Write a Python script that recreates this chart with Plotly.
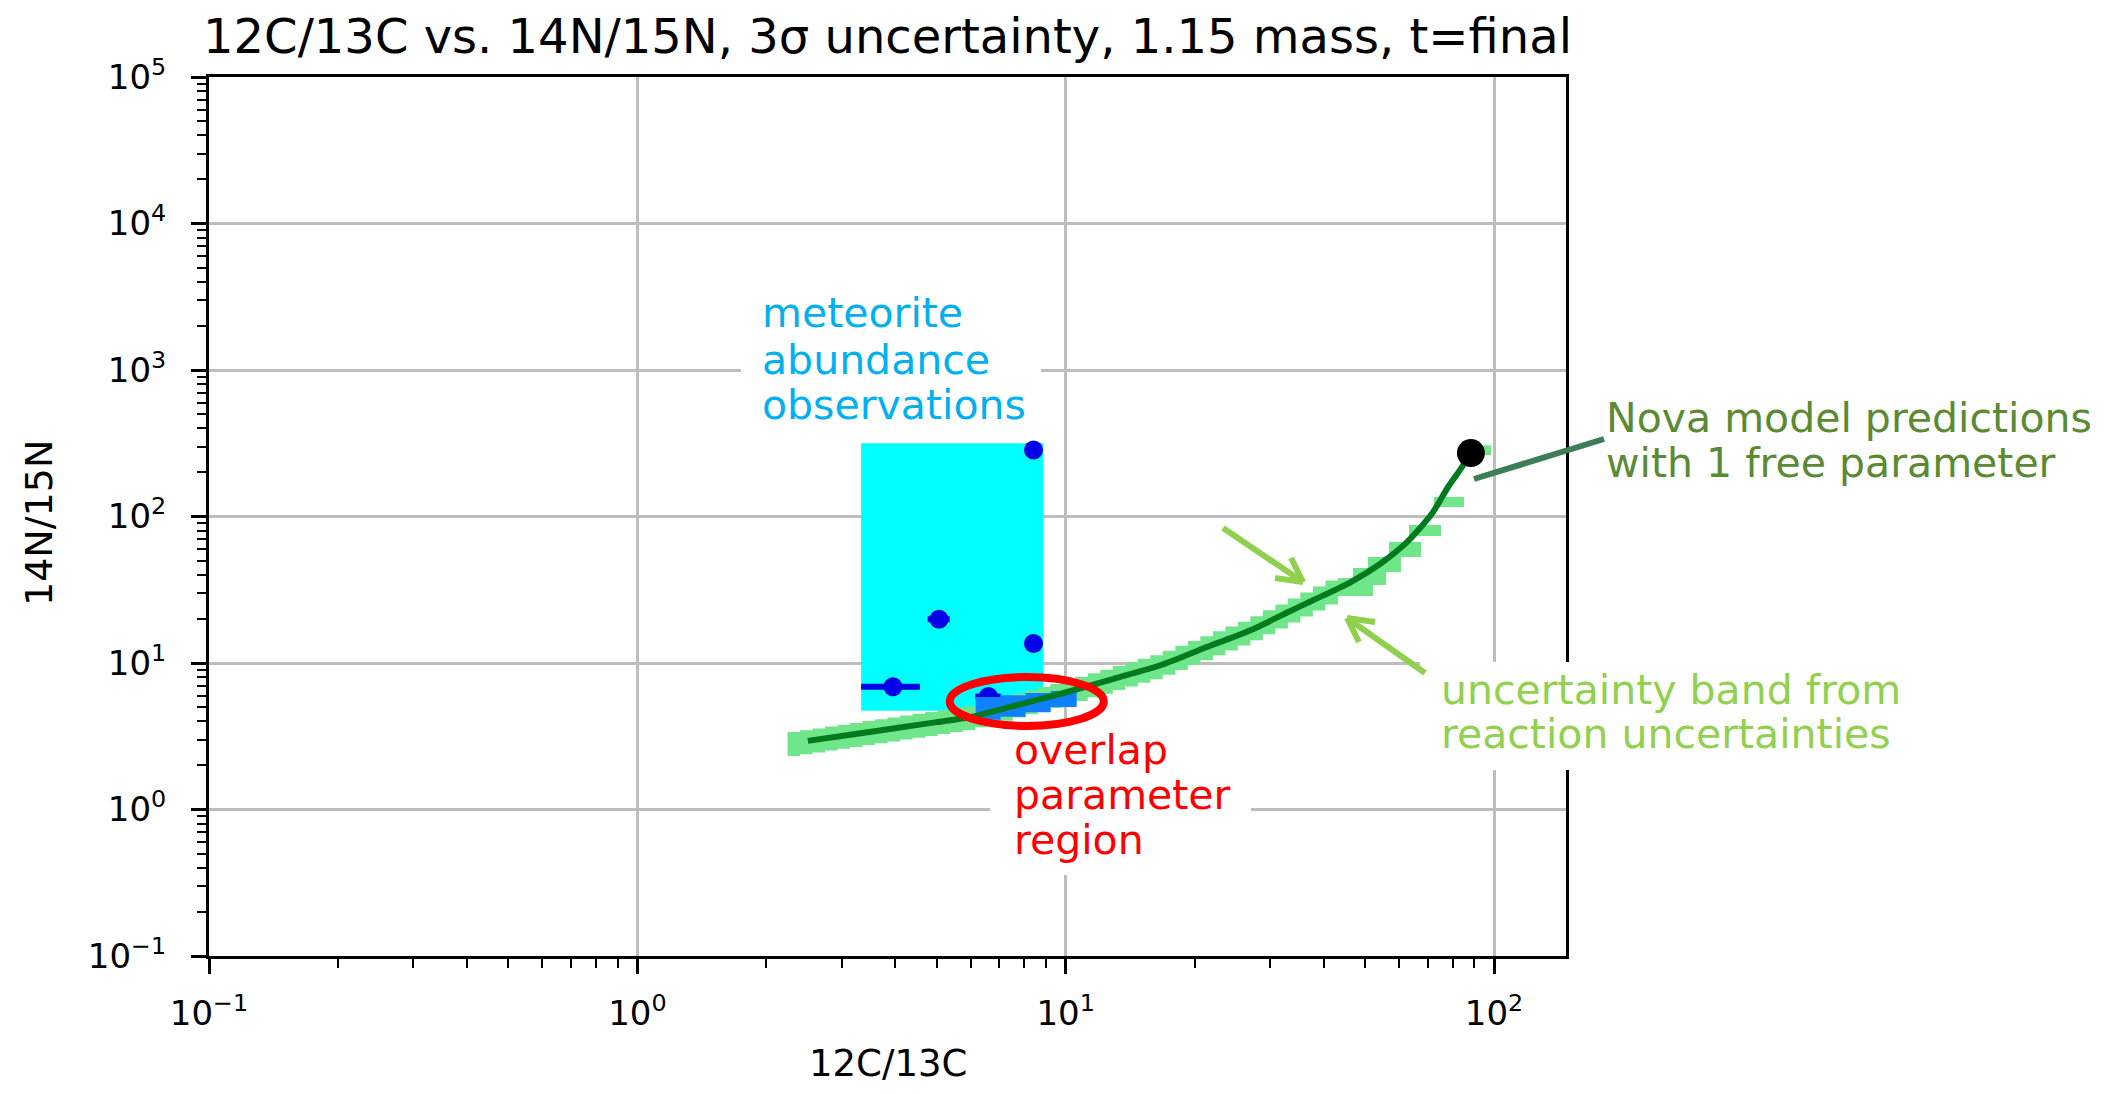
import plotly.graph_objects as go

# ---------------- data ----------------
# nova model prediction curve (12C/13C, 14N/15N)
curve_x = [2.50, 3.2, 4.18, 5.0, 6.0, 7.5, 9.89, 13.0, 16.7, 21.0, 27.1, 33.0, 37.9,
           46.3, 54.5, 62.0, 67.5, 72.0, 78.1, 83.0, 88.3]
curve_y = [2.94, 3.26, 3.66, 3.95, 4.28, 5.06, 6.24, 7.83, 9.69, 12.6, 16.8, 22.2, 26.9,
           35.7, 48.0, 65.0, 84.8, 107, 159, 205, 271]
# final-time model point
end_x = [88.3]
end_y = [271]

# uncertainty band: fine bins along the curve, then the sparse bins near the end
band_edges = [2.242, 2.397, 2.564, 2.742, 2.933, 3.136, 3.355, 3.588, 3.838, 4.106, 4.391,
              4.697, 5.023, 5.373, 5.746, 6.146, 6.573, 7.031, 7.520, 8.043, 8.603, 9.201,
              9.840, 10.52, 11.26, 12.04, 12.88, 13.77, 14.73, 15.76, 16.85, 18.03, 19.28,
              20.62, 22.06, 23.59, 25.23, 26.98, 28.86, 30.87, 33.02, 35.31, 37.77, 40.40,
              43.21]
band_lo = [2.318, 2.385, 2.454, 2.527, 2.600, 2.675, 2.752, 2.835, 2.917, 3.001, 3.091,
           3.180, 3.276, 3.376, 3.472, 3.646, 3.834, 4.032, 4.246, 4.465, 4.695, 4.937,
           5.209, 5.512, 5.834, 6.172, 6.531, 6.922, 7.324, 7.751, 8.308, 8.973, 9.676,
           10.45, 11.29, 12.17, 13.15, 14.28, 15.70, 17.23, 18.93, 20.77, 22.86, 25.12]
band_hi = [3.381, 3.478, 3.578, 3.687, 3.793, 3.901, 4.013, 4.135, 4.253, 4.375, 4.508,
           4.637, 4.778, 4.923, 5.064, 5.317, 5.591, 5.880, 6.192, 6.512, 6.846, 7.199,
           7.594, 8.038, 8.505, 9.000, 9.524, 10.09, 10.68, 11.30, 12.11, 13.09, 14.11,
           15.24, 16.46, 17.75, 19.16, 20.84, 22.89, 25.12, 27.61, 30.28, 33.34, 36.63]
tail_x0 = [43.21, 46.84, 50.76, 56.85, 63.30, 72.40, 92.3]
tail_x1 = [52.16, 55.94, 60.63, 67.51, 75.18, 85.10, 98.4]
tail_lo = [28.66, 34.07, 41.81, 52.91, 73.60, 116.1, 263]
tail_hi = [38.04, 44.51, 52.91, 66.97, 87.50, 135.9, 307]

# overlap parameter region bins
ovl_x0 = [6.163, 7.049, 8.063, 9.226]
ovl_x1 = [7.049, 8.063, 9.226, 10.61]
ovl_lo = [4.10, 4.30, 4.62, 5.00]
ovl_hi = [5.85, 6.03, 6.24, 6.45]

# meteorite observations
obs_x = [8.41, 5.06, 8.41, 3.95, 6.6]
obs_y = [284, 19.9, 13.6, 6.89, 5.9]
obs_xerr = [0.0, 0.3, 0.0, 0.62, 0.45]
# observation envelope box
obs_box_x = [3.33, 8.87]
obs_box_y = [4.72, 316]

# highlighted overlap ellipse (data coords)
ell_x = [5.36, 12.27]
ell_y = [3.72, 8.02]

x_tick_vals = [0.1, 1, 10, 100]
x_tick_text = ["10<sup>\u22121</sup>", "10<sup>0</sup>", "10<sup>1</sup>", "10<sup>2</sup>"]
y_tick_vals = [0.1, 1, 10, 100, 1000, 10000, 100000]
y_tick_text = ["10<sup>\u22121</sup>", "10<sup>0</sup>", "10<sup>1</sup>", "10<sup>2</sup>",
               "10<sup>3</sup>", "10<sup>4</sup>", "10<sup>5</sup>"]

title_text = "12C/13C vs. 14N/15N, 3\u03c3 uncertainty, 1.15 mass, t=final"
x_title = "12C/13C"
y_title = "14N/15N"

# ---------------- helpers ----------------
def rect_path(x0s, x1s, y0s, y1s):
    xs, ys = [], []
    for a, b, c, d in zip(x0s, x1s, y0s, y1s):
        xs += [a, b, b, a, a, None]
        ys += [c, c, d, d, c, None]
    return xs, ys

# page geometry in pixels (the page body has an 8px margin)
PAGE_W, PAGE_H = 2120, 1094
OFF = 8
FIG_W, FIG_H = PAGE_W - 2 * OFF, PAGE_H - 2 * OFF
L, R, T, B = 209, 1566, 77, 956          # plot area in page pixels
PW, PH = R - L, B - T

def px(X):
    return (X - L) / PW

def py(Y):
    return (B - Y) / PH

FONT = "DejaVu Sans"
minor_vals = [m * 10.0 ** e for e in range(-2, 6) for m in range(2, 10)]

fig = go.Figure()

# observation envelope (cyan)
fig.add_trace(go.Scatter(
    x=[obs_box_x[0], obs_box_x[1], obs_box_x[1], obs_box_x[0], obs_box_x[0]],
    y=[obs_box_y[0], obs_box_y[0], obs_box_y[1], obs_box_y[1], obs_box_y[0]],
    mode="lines", fill="toself", fillcolor="#00ffff", line=dict(width=0),
    hoverinfo="skip", showlegend=False))

# uncertainty band
bx, by = rect_path(band_edges[:-1] + tail_x0, band_edges[1:] + tail_x1,
                   band_lo + tail_lo, band_hi + tail_hi)
fig.add_trace(go.Scatter(x=bx, y=by, mode="lines", fill="toself",
                         fillcolor="#70e68a", line=dict(width=0),
                         hoverinfo="skip", showlegend=False))

# observation points
fig.add_trace(go.Scatter(
    x=obs_x, y=obs_y, mode="markers",
    marker=dict(color="#0000e6", size=19),
    error_x=dict(type="data", array=obs_xerr, color="#0000e6", thickness=6, width=0),
    showlegend=False))

# overlap region
ox, oy = rect_path(ovl_x0, ovl_x1, ovl_lo, ovl_hi)
fig.add_trace(go.Scatter(x=ox, y=oy, mode="lines", fill="toself",
                         fillcolor="#0f80ff", line=dict(width=0),
                         hoverinfo="skip", showlegend=False))

# model curve
fig.add_trace(go.Scatter(x=curve_x, y=curve_y, mode="lines",
                         line=dict(color="#007a1e", width=6, shape="spline", smoothing=0.7),
                         showlegend=False))
fig.add_trace(go.Scatter(x=end_x, y=end_y, mode="markers",
                         marker=dict(color="black", size=28), showlegend=False))

axis_common = dict(
    type="log", showline=True, linecolor="black", linewidth=3, mirror=True,
    showgrid=True, gridcolor="#bdbdbd", gridwidth=3,
    ticks="outside", ticklen=15, tickwidth=3, tickcolor="black",
    tickfont=dict(family=FONT, size=34, color="black"),
    tickmode="array", zeroline=False, automargin=False,
    minor=dict(tickvals=minor_vals, ticks="outside", ticklen=9, tickwidth=2,
               tickcolor="black", showgrid=False),
)

fig.update_xaxes(range=[-1, 2.168], tickvals=x_tick_vals, ticktext=x_tick_text,
                 ticklabelstandoff=10, **axis_common)
fig.update_yaxes(range=[-1, 5], tickvals=y_tick_vals, ticktext=y_tick_text,
                 ticklabelstandoff=18, **axis_common)

shapes = []
# white text boxes (drawn over the plot like in the slide)
for (x0, x1, y0, y1) in [(741, 1041, 290, 438), (990, 1251, 724, 875), (1420, 1915, 662, 770)]:
    shapes.append(dict(type="rect", xref="paper", yref="paper",
                       x0=px(x0), x1=px(x1), y0=py(y1), y1=py(y0),
                       fillcolor="white", line=dict(width=0), layer="above"))
# red ellipse
shapes.append(dict(type="circle", xref="x", yref="y", x0=ell_x[0], x1=ell_x[1],
                   y0=ell_y[0], y1=ell_y[1], line=dict(color="#ff0000", width=8),
                   layer="above"))
# callout line for model
shapes.append(dict(type="line", xref="paper", yref="paper",
                   x0=px(1474), y0=py(479), x1=px(1604), y1=py(439),
                   line=dict(color="#3d7d58", width=6), layer="above"))
# light-green arrows (shaft + open head)
arrow_col = "#8fd14f"
for seg in [((1223, 528), (1303, 582)), ((1303, 582), (1275, 578)), ((1303, 582), (1291, 558)),
            ((1425, 673), (1347, 618)), ((1347, 618), (1375, 622)), ((1347, 618), (1359, 642))]:
    (ax0, ay0), (ax1, ay1) = seg
    shapes.append(dict(type="line", xref="paper", yref="paper",
                       x0=px(ax0), y0=py(ay0), x1=px(ax1), y1=py(ay1),
                       line=dict(color=arrow_col, width=6), layer="above"))

ANN_SIZE = 41
def text_ann(txt, X, baseline, color, size=ANN_SIZE):
    return dict(text=txt, xref="paper", yref="paper", x=px(X),
                y=py(baseline - 0.346 * size - 3),
                xanchor="left", yanchor="middle", showarrow=False,
                font=dict(family=FONT, size=size, color=color))

annotations = []
for txt, base in [("meteorite", 330), ("abundance", 377), ("observations", 422)]:
    annotations.append(text_ann(txt, 760, base, "#00b0f0"))
for txt, base in [("overlap", 767), ("parameter", 812), ("region", 857)]:
    annotations.append(text_ann(txt, 1012, base, "#ff0000"))
for txt, base in [("Nova model predictions", 435), ("with 1 free parameter", 480)]:
    annotations.append(text_ann(txt, 1604, base, "#5b8a35"))
for txt, base in [("uncertainty band from", 707), ("reaction uncertainties", 751)]:
    annotations.append(text_ann(txt, 1439, base, "#92d050"))

# axis titles
annotations.append(dict(text=x_title, xref="paper", yref="paper", x=0.5, y=py(1063),
                        xanchor="center", yanchor="middle", showarrow=False,
                        font=dict(family=FONT, size=37, color="black")))
annotations.append(dict(text=y_title, xref="paper", yref="paper", x=px(39), y=py(523),
                        xanchor="center", yanchor="middle", showarrow=False, textangle=-90,
                        font=dict(family=FONT, size=38, color="black")))

fig.update_layout(
    width=FIG_W, height=FIG_H,
    margin=dict(l=L - OFF, r=(PAGE_W - OFF) - R, t=T - OFF, b=(PAGE_H - OFF) - B, pad=0),
    paper_bgcolor="white", plot_bgcolor="white",
    title=dict(text=title_text, x=0.5, xref="paper", xanchor="center",
               y=1 - (36 - OFF) / FIG_H, yref="container", yanchor="middle",
               font=dict(family=FONT, size=48, color="black")),
    shapes=shapes, annotations=annotations, showlegend=False,
)

fig.write_html("out.html")
